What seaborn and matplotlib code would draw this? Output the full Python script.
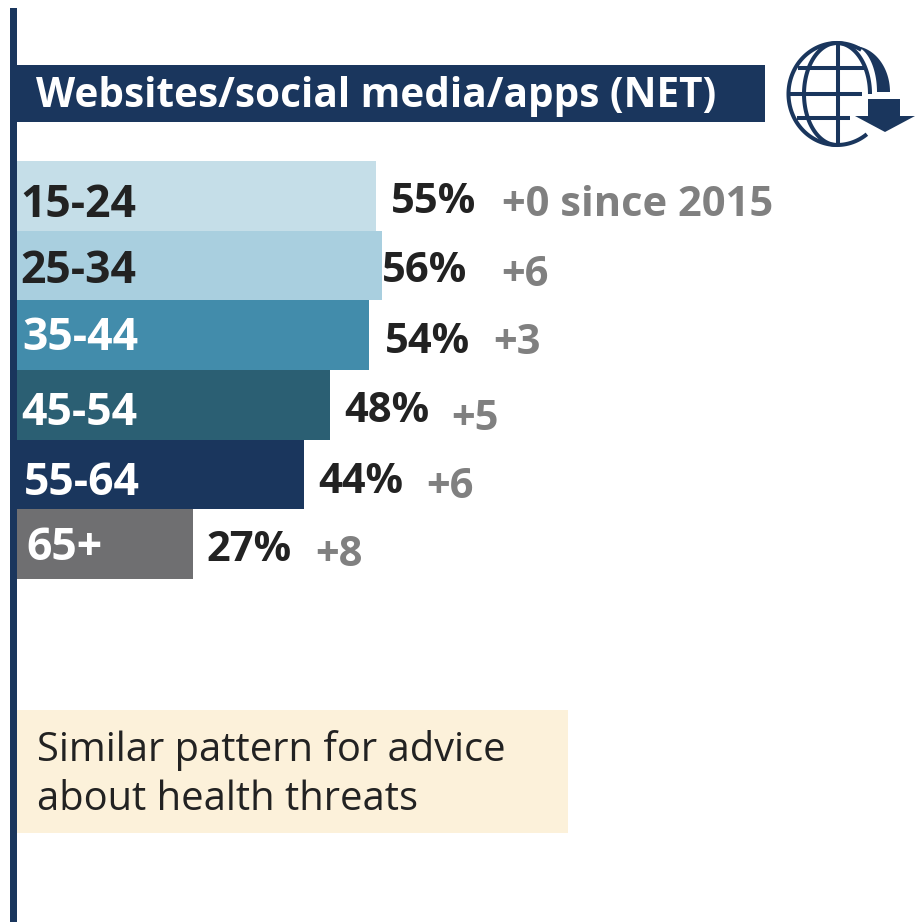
import matplotlib
matplotlib.use("Agg")
import matplotlib.pyplot as plt
import numpy as np
import pandas as pd
import seaborn as sns
from matplotlib.patches import Rectangle, Polygon

age_groups = ["15-24", "25-34", "35-44", "45-54", "55-64", "65+"]
shares = [55, 56, 54, 48, 44, 27]
changes = ["+0 since 2015", "+6", "+3", "+5", "+6", "+8"]
bar_colors = ["#C5DEE8", "#A9CFDF", "#428CAB", "#2B5F73", "#1A365D", "#6F6F71"]
age_text_colors = ["#222222", "#222222", "#FFFFFF", "#FFFFFF", "#FFFFFF", "#FFFFFF"]
heading = "Websites/social media/apps (NET)"
note = "Similar pattern for advice\nabout health threats"

NAVY = "#1A365D"
FONT = "Open Sans"
W, H = 921, 922

sns.set_theme(style="white")
plt.rcParams["font.family"] = [FONT, "DejaVu Sans"]

fig = plt.figure(figsize=(W / 100, H / 100), dpi=100, facecolor="white")

# Bars occupy their own axes; the x scale is about 6.54 px per percentage point
ax = fig.add_axes([16 / W, 1 - 579 / H, 905 / W, 418 / H])
df = pd.DataFrame({"age": age_groups, "share": shares})
sns.barplot(data=df, y="age", x="share", hue="age", palette=bar_colors,
            legend=False, width=1.0, saturation=1, ax=ax, linewidth=0)
ax.set_xlim(0, 905 / 6.54)
ax.set_ylim(5.5, -0.5)
ax.axis("off")

# Overlay in pixel units for the furniture and annotations
ov = fig.add_axes([0, 0, 1, 1], facecolor="none")
ov.set_xlim(0, W)
ov.set_ylim(H, 0)
ov.axis("off")

ov.add_patch(Rectangle((10, 8), 6.5, H - 8, color=NAVY, lw=0))
ov.add_patch(Rectangle((16, 65), 749, 57, color=NAVY, lw=0))
ov.text(36, 96.5, heading, color="white", fontsize=29.2, fontweight="bold", va="center", ha="left")

# Row annotations: age label, share, change since 2015
age_x = [20, 20, 22, 21, 24, 26]
age_y = [205, 271, 338, 413, 483, 548]
share_x = [391, 382, 385, 344, 318, 206]
share_y = [202, 271, 342, 411, 482, 550]
change_x = [502, 501, 493, 451, 426, 315]
change_y = [205, 275, 343, 419, 487, 555]
for i, age in enumerate(age_groups):
    ov.text(age_x[i], age_y[i], age, color=age_text_colors[i], fontsize=32, fontweight="bold", va="center", ha="left")
    ov.text(share_x[i], share_y[i], f"{shares[i]}%", color="#222222", fontsize=30, fontweight="bold", va="center", ha="left")
    ov.text(change_x[i], change_y[i], changes[i], color="#808080", fontsize=30, fontweight="bold", va="center", ha="left")

# Callout note
ov.add_patch(Rectangle((17, 710), 551, 123, color="#FCF1DA", lw=0))
ov.text(37, 775, note, color="#222222", fontsize=28.7, va="center", ha="left", linespacing=1.3)


def stroke(xs, ys):
    ov.plot(xs, ys, color=NAVY, lw=2.9, solid_capstyle="butt")


def ring_arc(cx, cy, rx, ry, start, stop):
    # Elliptical stroke; angles run clockwise on screen from three o'clock
    t = np.radians(np.linspace(start, stop, 120))
    stroke(cx + rx * np.cos(t), cy + ry * np.sin(t))


# Globe icon: outline open at the lower right, meridians and parallels
gx, gy = 837, 94
ring_arc(gx, gy, 48.5, 51, 52, 300)
ring_arc(gx, gy, 33, 51, 90, 360)
stroke([gx + 1, gx + 1], [43, 145])
stroke([798, 865], [68.3, 68.3])
stroke([788, 862], [94, 94])
stroke([797, 850], [118.5, 118.5])

# Crescent tail curving into the arrow
t = np.radians(np.linspace(0, 90, 40))
outer_edge = np.column_stack([853 + 37 * np.sin(t), 92 - 46 * np.cos(t)])
inner_edge = np.column_stack([853 + 24 * np.sin(t), 92 - 46 * np.cos(t)])
ov.add_patch(Polygon(np.vstack([outer_edge, inner_edge[::-1]]), closed=True, color=NAVY, lw=0))

# Arrow head and stem
ov.add_patch(Polygon([(868, 99), (900, 99), (900, 116), (915, 116), (885, 132), (855, 116), (868, 116)],
                     color=NAVY, lw=0))

fig.savefig("out.png", dpi=100)
